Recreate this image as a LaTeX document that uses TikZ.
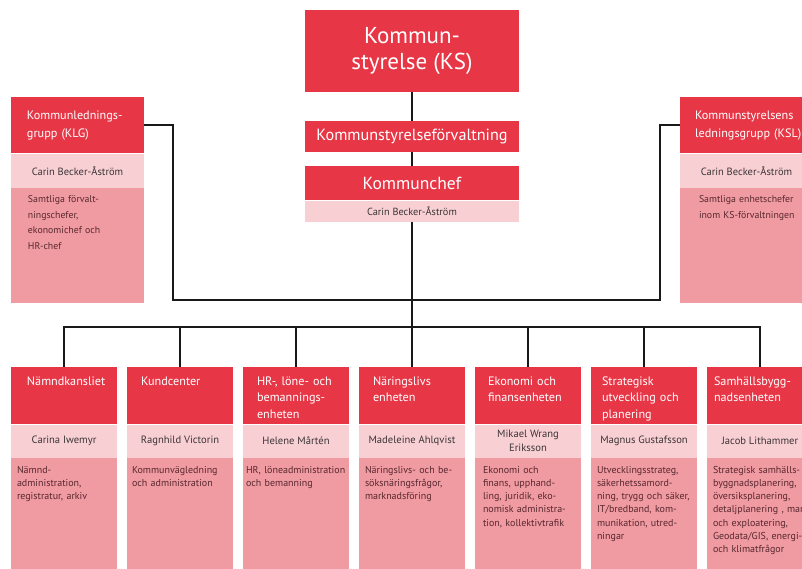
\documentclass[tikz,border=0pt]{standalone}
\usepackage{fontspec}
\setmainfont{PT Sans}
\usetikzlibrary{positioning}
\definecolor{ksred}{RGB}{231,55,71}
\definecolor{kspink}{RGB}{248,208,212}
\definecolor{ksrose}{RGB}{240,154,162}
\definecolor{ksgray}{RGB}{60,52,54}
\definecolor{ksdark}{RGB}{88,40,46}

\begin{document}
\begin{tikzpicture}
        [%%%%%%%%%%%%%%%%%%%%%%%%%%%%%%
        x=1pt, y=-1pt,
        every node/.style={inner sep=0pt},
        link/.style={line width=2pt, draw=black!90},
        topbox/.style={fill=ksred, text=white, anchor=north, align=center, minimum width=214},
        head/.style={fill=ksred, text=white, anchor=north, align=left,
          font=\fontsize{12.2}{16.5}\selectfont, text width=106,
          execute at begin node={\leftskip=#1\rightskip=-30pt plus 1fil},
          text height=18, text depth=39},
        head/.default=13pt,
        who/.style={fill=kspink, text=ksgray, align=center,
          font=\fontsize{10.6}{14}\selectfont, minimum width=106, minimum height=33},
        duty/.style={fill=ksrose, text=ksdark, align=left,
          font=\fontsize{10}{13.3}\selectfont, text width=106,
          execute at begin node={\leftskip=#1\rightskip=-30pt plus 1fil},
          text height=15, text depth=96},
        duty/.default=5pt,
        sidehead/.style={head=#1, font=\fontsize{12.2}{18}\selectfont, text width=133,
          text height=22, text depth=34},
        sidewho/.style={who, font=\fontsize{10.5}{12}\selectfont, minimum width=133, minimum height=34},
        sideduty/.style={duty=#1, font=\fontsize{9.8}{15.5}\selectfont, text width=133,
          text height=15, text depth=100},
        ]%%%%%%%%%%%%%%%%%%%%%%%%%%%%%%
        \useasboundingbox (0,0) rectangle (802,569);
        % Top of the chart
        \node[topbox, minimum height=82, font=\fontsize{23}{26}\selectfont] (ks) at (412,10) {Kommun-\\styrelse (KS)};
        \node[topbox, minimum height=31, font=\fontsize{16.2}{18}\selectfont] (ksf) at (412,121) {Kommunstyrelseförvaltning};
        \node[topbox, minimum height=34, font=\fontsize{17.5}{20}\selectfont] (kc) at (412,166) {Kommunchef};
        \node[who, minimum width=214, minimum height=21, font=\fontsize{10.3}{12}\selectfont, below=0pt of kc] (kcn) {Carin Becker-Åström};
        % Groups left and right
        \node[sidehead=16pt] (klg) at (77.5,97) {Kommunlednings-\\grupp (KLG)};
        \node[sidewho, below=0pt of klg] (klgn) {Carin Becker-Åström};
        \node[sideduty=17pt, below=0pt of klgn] (klgd) {Samtliga förvalt-\\ningschefer,\\ekonomichef och\\HR-chef};
        \node[sidehead=15pt] (ksl) at (746.5,97) {Kommunstyrelsens\\ledningsgrupp (KSL)};
        \node[sidewho, below=0pt of ksl] (ksln) {Carin Becker-Åström};
        \node[sideduty=19pt, below=0pt of ksln] (ksld) {Samtliga enhetschefer\\inom KS-förvaltningen};
        % Units
        \node[head=16pt] (namnd) at (64,367) {Nämndkansliet};
        \node[who, below=0pt of namnd] (namnd-n) {Carina Iwemyr};
        \node[duty=6pt, below=0pt of namnd-n] (namnd-d) {Nämnd-\\administration,\\registratur, arkiv};
        \node[head=14pt] (kund) at (180,367) {Kundcenter};
        \node[who, below=0pt of kund] (kund-n) {Ragnhild Victorin};
        \node[duty, below=0pt of kund-n] (kund-d) {Kommunvägledning\\och administration};
        \node[head=14pt] (hr) at (296,367) {HR-, löne- och\\bemannings-\\enheten};
        \node[who, below=0pt of hr] (hr-n) {Helene Mårtén};
        \node[duty=3pt, below=0pt of hr-n] (hr-d) {HR, löneadministration\\och bemanning};
        \node[head=14pt] (nar) at (412,367) {Näringslivs\\enheten};
        \node[who, below=0pt of nar] (nar-n) {Madeleine Ahlqvist};
        \node[duty=6pt, below=0pt of nar-n] (nar-d) {Näringslivs- och be-\\söksnäringsfrågor,\\marknadsföring};
        \node[head] (ekon) at (528,367) {Ekonomi och\\finansenheten};
        \node[who, below=0pt of ekon] (ekon-n) {Mikael Wrang\\Eriksson};
        \node[duty=8pt, below=0pt of ekon-n] (ekon-d) {Ekonomi och\\finans, upphand-\\ling, juridik, eko-\\nomisk administra-\\tion, kollektivtrafik};
        \node[head=11pt] (strat) at (644,367) {Strategisk\\utveckling och\\planering};
        \node[who, below=0pt of strat] (strat-n) {Magnus Gustafsson};
        \node[duty=6pt, below=0pt of strat-n] (strat-d) {Utvecklingsstrateg,\\säkerhetssamord-\\ning, trygg och säker,\\IT/bredband, kom-\\munikation, utred-\\ningar};
        \node[head=7pt] (samh) at (760,367) {Samhällsbygg-\\nadsenheten};
        \node[who, below=0pt of samh] (samh-n) {Jacob Lithammer};
        \node[duty=6pt, below=0pt of samh-n] (samh-d) {Strategisk samhälls-\\byggnadsplanering,\\översiksplanering,\\detaljplanering , mark\\och exploatering,\\Geodata/GIS, energi-\\och klimatfrågor};
        % Lines
        \coordinate (left) at (173,300);
        \coordinate (right) at (660,300);
        \coordinate (bus) at (412,327);
        \draw[link] (ks) -- (ksf);
        \draw[link] (ksf) -- (kc);
        \draw[link] (kcn.south) -- (nar.north);
        \draw[link] (klg.east) -| (left) -- (right) |- (ksl.west);
        \draw[link] (namnd.north) |- (bus) -| (samh.north);
        \foreach \n in {kund,hr,ekon,strat}{
          \draw[link] (\n.north) -- (\n.north |- bus);
        }
      \end{tikzpicture}
\end{document}
